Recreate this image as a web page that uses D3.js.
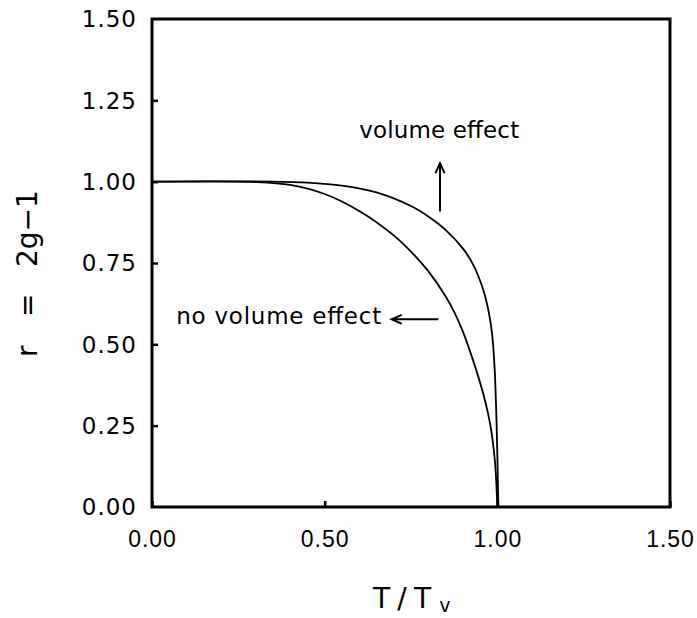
<!DOCTYPE html>
<html>
<head>
<meta charset="utf-8">
<script src="https://cdn.jsdelivr.net/npm/d3@7"></script>
<style>
  body { margin: 0; background: #ffffff; }
  svg { display: block; font-family: 'DejaVu Sans', sans-serif; }
</style>
</head>
<body>
<div id="order-plot"></div>
<script>
/////////////////DATA////////////////////////////
// reduced temperature T/Tv for each read point
var noVolumeT = [0.00, 0.30, 0.40, 0.50, 0.60, 0.70, 0.75, 0.80, 0.85, 0.875, 0.90, 0.93, 0.96, 0.98, 0.993, 1.00];
var noVolumeR = [1.00, 0.999, 0.99, 0.962, 0.91, 0.835, 0.785, 0.725, 0.648, 0.60, 0.54, 0.45, 0.345, 0.25, 0.14, 0.00];

var volumeT = [0.00, 0.35, 0.45, 0.55, 0.65, 0.75, 0.80, 0.85, 0.90, 0.93, 0.96, 0.975, 0.985, 0.992, 0.998, 1.003];
var volumeR = [1.00, 1.00, 0.997, 0.988, 0.967, 0.925, 0.893, 0.852, 0.795, 0.745, 0.665, 0.60, 0.53, 0.43, 0.25, 0.00];

var xTicks = [0, 0.5, 1.0, 1.5];
var yTicks = [0, 0.25, 0.5, 0.75, 1.0, 1.25, 1.5];

// annotations: label + arrow (arrow from -> to, in data units)
var annotations = [
    { text: 'volume effect', t: 0.60, r: 1.135, len: 160, from: [0.834, 0.908], to: [0.834, 1.057] },
    { text: 'no volume effect', t: 0.07, r: 0.563, len: 205, from: [0.829, 0.577], to: [0.694, 0.577] }
];
/////////////////END DATA////////////////////////////

(function () {
    var width = 697, height = 618;
    var margin = { l: 152, r: 27, t: 19, b: 111 };

    var svg = d3.select('#order-plot').append('svg')
        .attr('width', width)
        .attr('height', height);

    var x = d3.scaleLinear().domain([0, 1.5]).range([margin.l, width - margin.r]);
    var y = d3.scaleLinear().domain([0, 1.5]).range([height - margin.b, margin.t]);

    // inward ticks, labels placed by hand below
    var xAxis = d3.axisBottom(x).tickValues(xTicks).tickSize(-6).tickFormat(d3.format('.2f'));
    var yAxis = d3.axisLeft(y).tickValues(yTicks.slice(1, -1)).tickSize(-6).tickFormat('');

    var gx = svg.append('g')
        .attr('transform', 'translate(0,' + y(0) + ')')
        .call(xAxis);
    gx.select('.domain').remove();
    gx.selectAll('line').attr('stroke', '#000').attr('stroke-width', 2.5);
    gx.selectAll('text')
        .attr('y', 40)
        .attr('dy', 0)
        .attr('fill', '#000')
        .style('font-size', '23px')
        .style('letter-spacing', '1px');

    var gy = svg.append('g')
        .attr('transform', 'translate(' + x(0) + ',0)')
        .call(yAxis);
    gy.select('.domain').remove();
    gy.selectAll('line').attr('stroke', '#000').attr('stroke-width', 2.5);

    svg.append('g').selectAll('text')
        .data(yTicks)
        .enter().append('text')
        .attr('x', x(0) - 15)
        .attr('y', function (d) { return y(d); })
        .attr('dy', '0.36em')
        .attr('text-anchor', 'end')
        .style('font-size', '23px')
        .style('letter-spacing', '1px')
        .text(d3.format('.2f'));

    // frame
    svg.append('rect')
        .attr('x', x(0))
        .attr('y', y(1.5))
        .attr('width', x(1.5) - x(0))
        .attr('height', y(0) - y(1.5))
        .attr('fill', 'none')
        .attr('stroke', '#000')
        .attr('stroke-width', 3);

    var line = d3.line()
        .x(function (d) { return x(d[0]); })
        .y(function (d) { return y(d[1]); })
        .curve(d3.curveCatmullRom.alpha(0.5));

    var series = [d3.zip(noVolumeT, noVolumeR), d3.zip(volumeT, volumeR)];
    svg.append('g').selectAll('path')
        .data(series)
        .enter().append('path')
        .attr('d', line)
        .attr('fill', 'none')
        .attr('stroke', '#000')
        .attr('stroke-width', 1.8);

    // annotations
    annotations.forEach(function (a) {
        svg.append('text')
            .attr('x', x(a.t))
            .attr('y', y(a.r))
            .attr('textLength', a.len)
            .attr('lengthAdjust', 'spacing')
            .style('font-size', '23px')
            .text(a.text);

        var x0 = x(a.from[0]), y0 = y(a.from[1]);
        var x1 = x(a.to[0]), y1 = y(a.to[1]);
        var ang = Math.atan2(y1 - y0, x1 - x0);
        var hl = 11, ha = 0.42;
        svg.append('path')
            .attr('d', 'M' + x0 + ',' + y0 + 'L' + x1 + ',' + y1 +
                'M' + (x1 - hl * Math.cos(ang - ha)) + ',' + (y1 - hl * Math.sin(ang - ha)) +
                'L' + x1 + ',' + y1 +
                'L' + (x1 - hl * Math.cos(ang + ha)) + ',' + (y1 - hl * Math.sin(ang + ha)))
            .attr('fill', 'none')
            .attr('stroke', '#000')
            .attr('stroke-width', 2);
    });

    // axis titles
    var yt = svg.append('text')
        .attr('transform', 'translate(37,' + 357 + ') rotate(-90)')
        .style('font-size', '28px');
    yt.append('tspan').attr('x', 0).text('r');
    yt.append('tspan').attr('x', 40).text('=');
    yt.append('tspan').attr('x', 90).text('2g\u22121');

    var xt = svg.append('text')
        .attr('x', 373)
        .attr('y', 608)
        .style('font-size', '28px');
    xt.append('tspan').attr('textLength', 58).attr('lengthAdjust', 'spacing').text('T/T');
    xt.append('tspan').attr('dx', 1).attr('dy', 4).style('font-size', '19px').text('v');
})();
</script>
</body>
</html>
